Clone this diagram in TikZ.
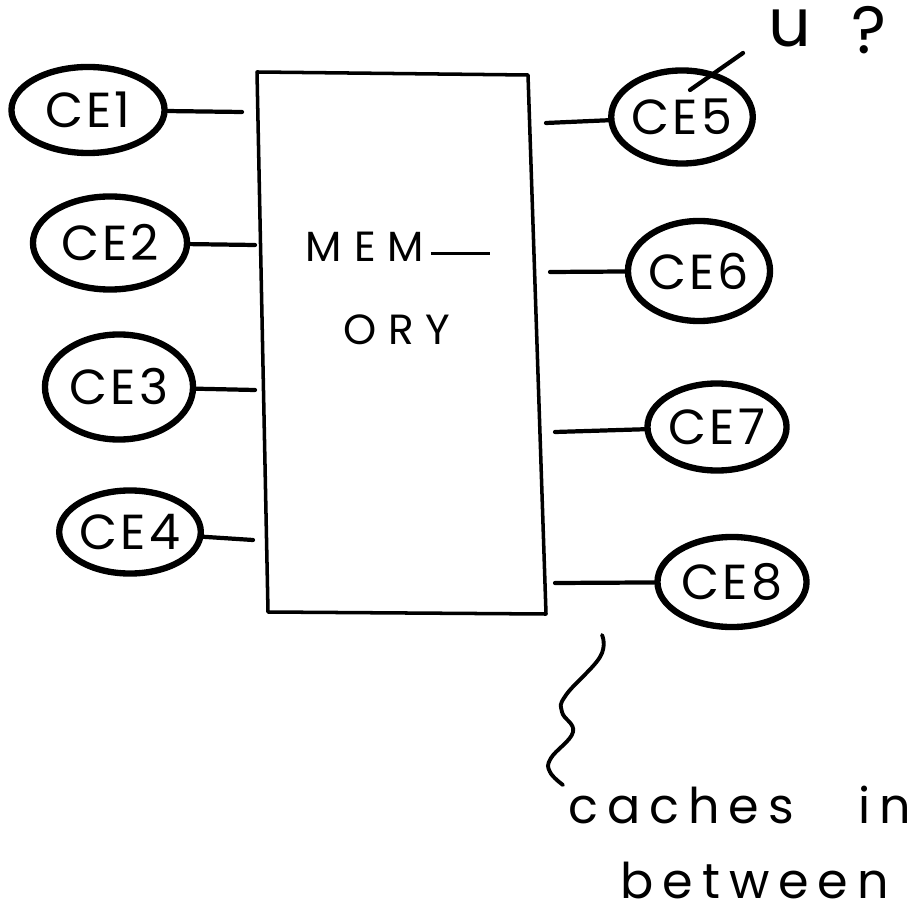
\documentclass[tikz,border=0pt]{standalone}
\usepackage{fontspec}
\setmainfont{Poppins}
\newfontfamily\hand[LetterSpace=6]{Poppins}
\newfontfamily\handwide[LetterSpace=28]{Poppins}
\newfontfamily\handnote[LetterSpace=18]{Poppins}
\usetikzlibrary{shapes.geometric}
\begin{document}
\begin{tikzpicture}[x=0.01cm,y=-0.01cm,
  ce/.style={ellipse,draw,line width=1.8pt,inner sep=0pt,font=\hand\fontsize{14}{16}\selectfont},
  wire/.style={line width=1.2pt,line cap=round},
  boxline/.style={line width=1pt,line join=round},
  memtext/.style={inner sep=0pt,font=\handwide\fontsize{12}{14}\selectfont},
  note/.style={inner sep=0pt,font=\handnote\fontsize{14}{16}\selectfont},
  remark/.style={inner sep=0pt,font=\fontsize{19}{21}\selectfont}]
\useasboundingbox (0,0) rectangle (910,910);
% memory box
\draw[boxline] (257,72) -- (528,75) -- (546,614) -- (268,612) -- cycle;
\node[memtext] (mem) at (398,247) {MEM\,\rule[0.3ex]{1.4em}{0.9pt}};
\node[memtext] (ory) at (397,330) {ORY};
% left CEs
\node[ce,minimum width=1.53cm,minimum height=0.86cm] (ce1) at (88,110) {CE1};
\node[ce,minimum width=1.54cm,minimum height=0.93cm] (ce2) at (110,243) {CE2};
\node[ce,minimum width=1.48cm,minimum height=1.05cm] (ce3) at (119,387) {CE3};
\node[ce,minimum width=1.34cm,minimum height=0.83cm] (ce4) at (130,532) {CE4};
% right CEs
\node[ce,minimum width=1.37cm,minimum height=0.93cm] (ce5) at (682,117) {CE5};
\node[ce,minimum width=1.42cm,minimum height=1.00cm] (ce6) at (699,271) {CE6};
\node[ce,minimum width=1.39cm,minimum height=0.87cm] (ce7) at (717,427) {CE7};
\node[ce,minimum width=1.49cm,minimum height=0.90cm] (ce8) at (732,582) {CE8};
% wire ends near the box
\coordinate (l1) at (242,112);
\coordinate (l2) at (255,245);
\coordinate (l3) at (255,390);
\coordinate (l4) at (253,540);
\coordinate (r5) at (546,123);
\coordinate (r6) at (550,272);
\coordinate (r7) at (555,432);
\coordinate (r8) at (555,583);
\draw[wire] (ce1) -- (l1);
\draw[wire] (ce2) -- (l2);
\draw[wire] (ce3) -- (l3);
\draw[wire] (ce4) -- (l4);
\draw[wire] (ce5) -- (r5);
\draw[wire] (ce6) -- (r6);
\draw[wire] (ce7) -- (r7);
\draw[wire] (ce8) -- (r8);
% "u ?" remark pointing into CE5
\node[remark] (u) at (790,28) {u};
\node[remark] (q) at (869,30) {?};
\coordinate (p1) at (743,53);
\coordinate (p2) at (690,90);
\draw[wire] (p1) -- (p2);
% squiggle and caption
\draw[wire,line width=1.1pt] plot[smooth,tension=0.7] coordinates
  {(602,635) (600,657) (566,695) (562,712) (573,732) (551,758) (550,772) (563,785)};
\node[note,anchor=west] (caches) at (568,805) {caches};
\node[note,anchor=west] (in) at (858,805) {in};
\node[note,anchor=west] (between) at (620,880) {between};
\end{tikzpicture}
\end{document}
